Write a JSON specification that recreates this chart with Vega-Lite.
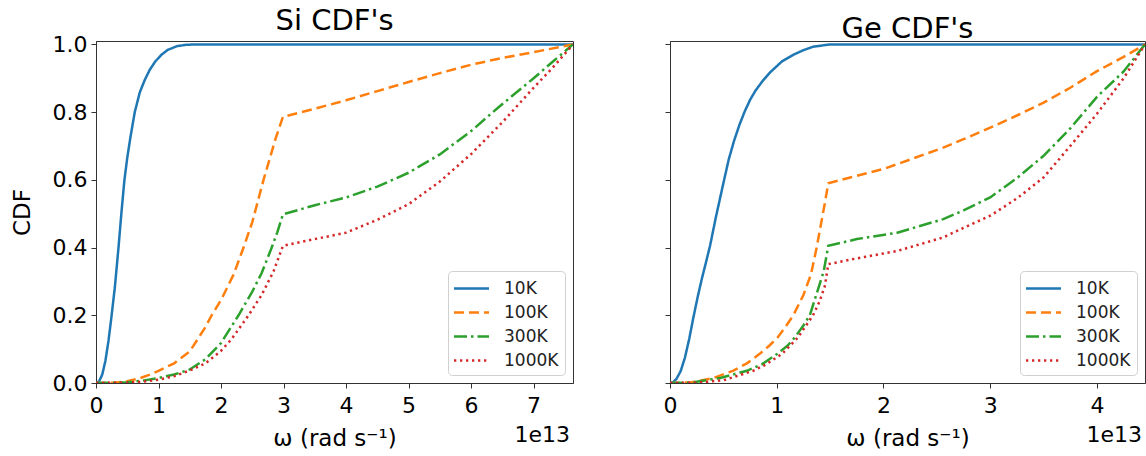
{
  "$schema": "https://vega.github.io/schema/vega-lite/v6.json",
  "background": "white",
  "padding": {"left": 10, "top": 6, "right": 2, "bottom": 2},
  "config": {
    "font": "DejaVu Sans",
    "view": {"stroke": "#333333", "strokeWidth": 1},
    "axis": {
      "domainColor": "#333333", "tickColor": "#333333", "labelColor": "#000000", "titleColor": "#000000",
      "labelFont": "DejaVu Sans", "titleFont": "DejaVu Sans",
      "labelFontSize": 22, "titleFontSize": 23, "titleFontWeight": "normal",
      "grid": false, "tickSize": 5, "labelPadding": 4, "labelFlush": false, "titlePadding": 8
    },
    "axisX": {"labelPadding": 7, "titlePadding": 11},
    "axisY": {"titlePadding": 18},
    "title": {"font": "DejaVu Sans", "fontSize": 29, "fontWeight": "normal", "color": "#000000", "offset": -3, "frame": "group", "baseline": "alphabetic"},
    "legend": {
      "orient": "bottom-right", "offset": 8, "padding": 6,
      "fillColor": "white", "strokeColor": "#d0d0d0", "cornerRadius": 4,
      "labelFont": "DejaVu Sans", "labelFontSize": 17, "labelColor": "#222222",
      "symbolType": "M-1.75,0H1.75", "symbolSize": 400, "symbolStrokeWidth": 2.5, "symbolOffset": 6,
      "rowPadding": 4, "labelOffset": 21
    },
    "concat": {"spacing": 88}
  },
  "datasets": {
    "si": [
      {"T": "10K", "w": 0, "cdf": 0}, {"T": "10K", "w": 0.05, "cdf": 0.005}, {"T": "10K", "w": 0.1, "cdf": 0.025},
      {"T": "10K", "w": 0.15, "cdf": 0.065}, {"T": "10K", "w": 0.2, "cdf": 0.125}, {"T": "10K", "w": 0.25, "cdf": 0.2},
      {"T": "10K", "w": 0.3, "cdf": 0.28}, {"T": "10K", "w": 0.36, "cdf": 0.4}, {"T": "10K", "w": 0.41, "cdf": 0.51},
      {"T": "10K", "w": 0.455, "cdf": 0.6}, {"T": "10K", "w": 0.5, "cdf": 0.665}, {"T": "10K", "w": 0.55, "cdf": 0.725},
      {"T": "10K", "w": 0.62, "cdf": 0.8}, {"T": "10K", "w": 0.7, "cdf": 0.858}, {"T": "10K", "w": 0.78, "cdf": 0.895},
      {"T": "10K", "w": 0.86, "cdf": 0.925}, {"T": "10K", "w": 0.95, "cdf": 0.95}, {"T": "10K", "w": 1.05, "cdf": 0.97},
      {"T": "10K", "w": 1.15, "cdf": 0.984}, {"T": "10K", "w": 1.3, "cdf": 0.995}, {"T": "10K", "w": 1.45, "cdf": 0.999},
      {"T": "10K", "w": 1.65, "cdf": 1.0}, {"T": "10K", "w": 3, "cdf": 1.0}, {"T": "10K", "w": 5, "cdf": 1.0}, {"T": "10K", "w": 7.63, "cdf": 1.0},

      {"T": "100K", "w": 0, "cdf": 0}, {"T": "100K", "w": 0.3, "cdf": 0.001}, {"T": "100K", "w": 0.5, "cdf": 0.005},
      {"T": "100K", "w": 0.7, "cdf": 0.014}, {"T": "100K", "w": 0.85, "cdf": 0.024}, {"T": "100K", "w": 1.0, "cdf": 0.036},
      {"T": "100K", "w": 1.25, "cdf": 0.058}, {"T": "100K", "w": 1.5, "cdf": 0.093}, {"T": "100K", "w": 1.75, "cdf": 0.165},
      {"T": "100K", "w": 1.85, "cdf": 0.2}, {"T": "100K", "w": 2.0, "cdf": 0.245}, {"T": "100K", "w": 2.2, "cdf": 0.32},
      {"T": "100K", "w": 2.36, "cdf": 0.4}, {"T": "100K", "w": 2.5, "cdf": 0.475}, {"T": "100K", "w": 2.68, "cdf": 0.6},
      {"T": "100K", "w": 2.87, "cdf": 0.72}, {"T": "100K", "w": 2.99, "cdf": 0.786}, {"T": "100K", "w": 3.5, "cdf": 0.81},
      {"T": "100K", "w": 4.0, "cdf": 0.835}, {"T": "100K", "w": 4.5, "cdf": 0.862}, {"T": "100K", "w": 5.0, "cdf": 0.889},
      {"T": "100K", "w": 5.5, "cdf": 0.915}, {"T": "100K", "w": 6.0, "cdf": 0.94}, {"T": "100K", "w": 6.5, "cdf": 0.96},
      {"T": "100K", "w": 7.0, "cdf": 0.977}, {"T": "100K", "w": 7.63, "cdf": 1.0},

      {"T": "300K", "w": 0, "cdf": 0}, {"T": "300K", "w": 0.5, "cdf": 0.002}, {"T": "300K", "w": 0.75, "cdf": 0.007},
      {"T": "300K", "w": 1.0, "cdf": 0.015}, {"T": "300K", "w": 1.25, "cdf": 0.025}, {"T": "300K", "w": 1.5, "cdf": 0.04},
      {"T": "300K", "w": 1.75, "cdf": 0.07}, {"T": "300K", "w": 2.0, "cdf": 0.118}, {"T": "300K", "w": 2.28, "cdf": 0.2},
      {"T": "300K", "w": 2.5, "cdf": 0.27}, {"T": "300K", "w": 2.65, "cdf": 0.325}, {"T": "300K", "w": 2.8, "cdf": 0.395},
      {"T": "300K", "w": 2.9, "cdf": 0.445}, {"T": "300K", "w": 2.99, "cdf": 0.498}, {"T": "300K", "w": 3.5, "cdf": 0.525},
      {"T": "300K", "w": 4.0, "cdf": 0.548}, {"T": "300K", "w": 4.5, "cdf": 0.58}, {"T": "300K", "w": 5.0, "cdf": 0.621},
      {"T": "300K", "w": 5.5, "cdf": 0.675}, {"T": "300K", "w": 6.0, "cdf": 0.744}, {"T": "300K", "w": 6.43, "cdf": 0.813},
      {"T": "300K", "w": 7.0, "cdf": 0.9}, {"T": "300K", "w": 7.3, "cdf": 0.948}, {"T": "300K", "w": 7.63, "cdf": 1.0},

      {"T": "1000K", "w": 0, "cdf": 0}, {"T": "1000K", "w": 0.5, "cdf": 0.001}, {"T": "1000K", "w": 0.75, "cdf": 0.004},
      {"T": "1000K", "w": 1.0, "cdf": 0.01}, {"T": "1000K", "w": 1.25, "cdf": 0.02}, {"T": "1000K", "w": 1.5, "cdf": 0.037},
      {"T": "1000K", "w": 1.75, "cdf": 0.058}, {"T": "1000K", "w": 2.0, "cdf": 0.095}, {"T": "1000K", "w": 2.17, "cdf": 0.13},
      {"T": "1000K", "w": 2.44, "cdf": 0.2}, {"T": "1000K", "w": 2.65, "cdf": 0.26}, {"T": "1000K", "w": 2.84, "cdf": 0.33},
      {"T": "1000K", "w": 2.99, "cdf": 0.405}, {"T": "1000K", "w": 3.5, "cdf": 0.425}, {"T": "1000K", "w": 4.0, "cdf": 0.444},
      {"T": "1000K", "w": 4.5, "cdf": 0.482}, {"T": "1000K", "w": 5.0, "cdf": 0.528}, {"T": "1000K", "w": 5.5, "cdf": 0.595},
      {"T": "1000K", "w": 6.0, "cdf": 0.676}, {"T": "1000K", "w": 6.5, "cdf": 0.77}, {"T": "1000K", "w": 7.0, "cdf": 0.872},
      {"T": "1000K", "w": 7.3, "cdf": 0.93}, {"T": "1000K", "w": 7.63, "cdf": 1.0}
    ],
    "ge": [
      {"T": "10K", "w": 0, "cdf": 0}, {"T": "10K", "w": 0.03, "cdf": 0.003}, {"T": "10K", "w": 0.06, "cdf": 0.012},
      {"T": "10K", "w": 0.1, "cdf": 0.035}, {"T": "10K", "w": 0.14, "cdf": 0.075}, {"T": "10K", "w": 0.18, "cdf": 0.13},
      {"T": "10K", "w": 0.22, "cdf": 0.195}, {"T": "10K", "w": 0.26, "cdf": 0.255}, {"T": "10K", "w": 0.3, "cdf": 0.31},
      {"T": "10K", "w": 0.34, "cdf": 0.36}, {"T": "10K", "w": 0.375, "cdf": 0.405}, {"T": "10K", "w": 0.43, "cdf": 0.49},
      {"T": "10K", "w": 0.5, "cdf": 0.59}, {"T": "10K", "w": 0.55, "cdf": 0.66}, {"T": "10K", "w": 0.6, "cdf": 0.715},
      {"T": "10K", "w": 0.65, "cdf": 0.762}, {"T": "10K", "w": 0.7, "cdf": 0.802}, {"T": "10K", "w": 0.75, "cdf": 0.836},
      {"T": "10K", "w": 0.8, "cdf": 0.863}, {"T": "10K", "w": 0.87, "cdf": 0.893}, {"T": "10K", "w": 0.94, "cdf": 0.918},
      {"T": "10K", "w": 1.05, "cdf": 0.95}, {"T": "10K", "w": 1.16, "cdf": 0.97}, {"T": "10K", "w": 1.25, "cdf": 0.983},
      {"T": "10K", "w": 1.34, "cdf": 0.993}, {"T": "10K", "w": 1.5, "cdf": 1.0}, {"T": "10K", "w": 2.5, "cdf": 1.0},
      {"T": "10K", "w": 4.45, "cdf": 1.0},

      {"T": "100K", "w": 0, "cdf": 0}, {"T": "100K", "w": 0.2, "cdf": 0.002}, {"T": "100K", "w": 0.41, "cdf": 0.015},
      {"T": "100K", "w": 0.59, "cdf": 0.036}, {"T": "100K", "w": 0.72, "cdf": 0.058}, {"T": "100K", "w": 0.84, "cdf": 0.086},
      {"T": "100K", "w": 0.93, "cdf": 0.11}, {"T": "100K", "w": 1.01, "cdf": 0.135}, {"T": "100K", "w": 1.08, "cdf": 0.165},
      {"T": "100K", "w": 1.155, "cdf": 0.2}, {"T": "100K", "w": 1.25, "cdf": 0.26}, {"T": "100K", "w": 1.32, "cdf": 0.32},
      {"T": "100K", "w": 1.374, "cdf": 0.4}, {"T": "100K", "w": 1.45, "cdf": 0.53}, {"T": "100K", "w": 1.483, "cdf": 0.59},
      {"T": "100K", "w": 1.75, "cdf": 0.612}, {"T": "100K", "w": 2.0, "cdf": 0.632}, {"T": "100K", "w": 2.25, "cdf": 0.66},
      {"T": "100K", "w": 2.56, "cdf": 0.695}, {"T": "100K", "w": 2.75, "cdf": 0.72}, {"T": "100K", "w": 3.0, "cdf": 0.754},
      {"T": "100K", "w": 3.25, "cdf": 0.79}, {"T": "100K", "w": 3.5, "cdf": 0.828}, {"T": "100K", "w": 3.75, "cdf": 0.872},
      {"T": "100K", "w": 4.0, "cdf": 0.921}, {"T": "100K", "w": 4.25, "cdf": 0.963}, {"T": "100K", "w": 4.45, "cdf": 1.0},

      {"T": "300K", "w": 0, "cdf": 0}, {"T": "300K", "w": 0.2, "cdf": 0.001}, {"T": "300K", "w": 0.47, "cdf": 0.015},
      {"T": "300K", "w": 0.72, "cdf": 0.036}, {"T": "300K", "w": 0.86, "cdf": 0.055}, {"T": "300K", "w": 1.0, "cdf": 0.085},
      {"T": "300K", "w": 1.1, "cdf": 0.11}, {"T": "300K", "w": 1.17, "cdf": 0.135}, {"T": "300K", "w": 1.25, "cdf": 0.17},
      {"T": "300K", "w": 1.31, "cdf": 0.2}, {"T": "300K", "w": 1.38, "cdf": 0.27}, {"T": "300K", "w": 1.44, "cdf": 0.33},
      {"T": "300K", "w": 1.483, "cdf": 0.405}, {"T": "300K", "w": 1.75, "cdf": 0.425}, {"T": "300K", "w": 2.13, "cdf": 0.444},
      {"T": "300K", "w": 2.56, "cdf": 0.484}, {"T": "300K", "w": 2.75, "cdf": 0.51}, {"T": "300K", "w": 3.0, "cdf": 0.548},
      {"T": "300K", "w": 3.25, "cdf": 0.605}, {"T": "300K", "w": 3.5, "cdf": 0.671}, {"T": "300K", "w": 3.75, "cdf": 0.752},
      {"T": "300K", "w": 4.0, "cdf": 0.845}, {"T": "300K", "w": 4.25, "cdf": 0.92}, {"T": "300K", "w": 4.45, "cdf": 1.0},

      {"T": "1000K", "w": 0, "cdf": 0}, {"T": "1000K", "w": 0.25, "cdf": 0.001}, {"T": "1000K", "w": 0.5, "cdf": 0.008},
      {"T": "1000K", "w": 0.78, "cdf": 0.036}, {"T": "1000K", "w": 0.9, "cdf": 0.055}, {"T": "1000K", "w": 1.05, "cdf": 0.086},
      {"T": "1000K", "w": 1.2, "cdf": 0.135}, {"T": "1000K", "w": 1.34, "cdf": 0.2}, {"T": "1000K", "w": 1.4, "cdf": 0.24},
      {"T": "1000K", "w": 1.45, "cdf": 0.285}, {"T": "1000K", "w": 1.483, "cdf": 0.351}, {"T": "1000K", "w": 1.75, "cdf": 0.368},
      {"T": "1000K", "w": 2.13, "cdf": 0.39}, {"T": "1000K", "w": 2.56, "cdf": 0.43}, {"T": "1000K", "w": 2.75, "cdf": 0.458},
      {"T": "1000K", "w": 3.0, "cdf": 0.494}, {"T": "1000K", "w": 3.25, "cdf": 0.545}, {"T": "1000K", "w": 3.5, "cdf": 0.607},
      {"T": "1000K", "w": 3.75, "cdf": 0.7}, {"T": "1000K", "w": 4.0, "cdf": 0.795}, {"T": "1000K", "w": 4.25, "cdf": 0.9},
      {"T": "1000K", "w": 4.45, "cdf": 1.0}
    ],
    "offset": [{"label": "1e13"}]
  },
  "hconcat": [
    {
      "width": 477, "height": 342,
      "title": "Si CDF's",
      "layer": [
        {
          "data": {"name": "si"},
          "mark": {"type": "line", "strokeWidth": 2.5, "clip": true},
          "encoding": {
            "x": {"field": "w", "type": "quantitative", "scale": {"domain": [0, 7.63], "nice": false, "zero": false},
                  "axis": {"values": [0, 1, 2, 3, 4, 5, 6, 7], "format": "d", "title": "ω (rad s⁻¹)"}},
            "y": {"field": "cdf", "type": "quantitative", "scale": {"domain": [0, 1.01], "nice": false, "zero": false},
                  "axis": {"values": [0, 0.2, 0.4, 0.6, 0.8, 1.0], "format": ".1f", "title": "CDF"}},
            "color": {"field": "T", "type": "nominal",
                      "scale": {"domain": ["10K", "100K", "300K", "1000K"], "range": ["#1f77b4", "#ff7f0e", "#2ca02c", "#d62728"]},
                      "legend": {"title": null}},
            "strokeDash": {"field": "T", "type": "nominal",
                           "scale": {"domain": ["10K", "100K", "300K", "1000K"], "range": [[1, 0], [10, 5], [13, 4, 2.5, 4], [2.3, 3.7]]},
                           "legend": {"title": null}}
          }
        },
        {
          "data": {"name": "offset"},
          "mark": {"type": "text", "align": "right", "baseline": "alphabetic", "fontSize": 22, "font": "DejaVu Sans", "color": "#000000", "dy": 59, "dx": -3},
          "encoding": {
            "x": {"datum": 7.63, "type": "quantitative"},
            "y": {"datum": 0, "type": "quantitative"},
            "text": {"field": "label", "type": "nominal"}
          }
        }
      ]
    },
    {
      "width": 475, "height": 342,
      "title": "Ge CDF's",
      "layer": [
        {
          "data": {"name": "ge"},
          "mark": {"type": "line", "strokeWidth": 2.5, "clip": true},
          "encoding": {
            "x": {"field": "w", "type": "quantitative", "scale": {"domain": [0, 4.45], "nice": false, "zero": false},
                  "axis": {"values": [0, 1, 2, 3, 4], "format": "d", "title": "ω (rad s⁻¹)"}},
            "y": {"field": "cdf", "type": "quantitative", "scale": {"domain": [0, 1.01], "nice": false, "zero": false},
                  "axis": {"values": [0, 0.2, 0.4, 0.6, 0.8, 1.0], "labels": false, "title": null}},
            "color": {"field": "T", "type": "nominal",
                      "scale": {"domain": ["10K", "100K", "300K", "1000K"], "range": ["#1f77b4", "#ff7f0e", "#2ca02c", "#d62728"]},
                      "legend": {"title": null}},
            "strokeDash": {"field": "T", "type": "nominal",
                           "scale": {"domain": ["10K", "100K", "300K", "1000K"], "range": [[1, 0], [10, 5], [13, 4, 2.5, 4], [2.3, 3.7]]},
                           "legend": {"title": null}}
          }
        },
        {
          "data": {"name": "offset"},
          "mark": {"type": "text", "align": "right", "baseline": "alphabetic", "fontSize": 22, "font": "DejaVu Sans", "color": "#000000", "dy": 59, "dx": -3},
          "encoding": {
            "x": {"datum": 4.45, "type": "quantitative"},
            "y": {"datum": 0, "type": "quantitative"},
            "text": {"field": "label", "type": "nominal"}
          }
        }
      ]
    }
  ],
  "resolve": {
    "scale": {"x": "independent", "color": "independent", "strokeDash": "independent"},
    "legend": {"color": "independent", "strokeDash": "independent"}
  }
}
